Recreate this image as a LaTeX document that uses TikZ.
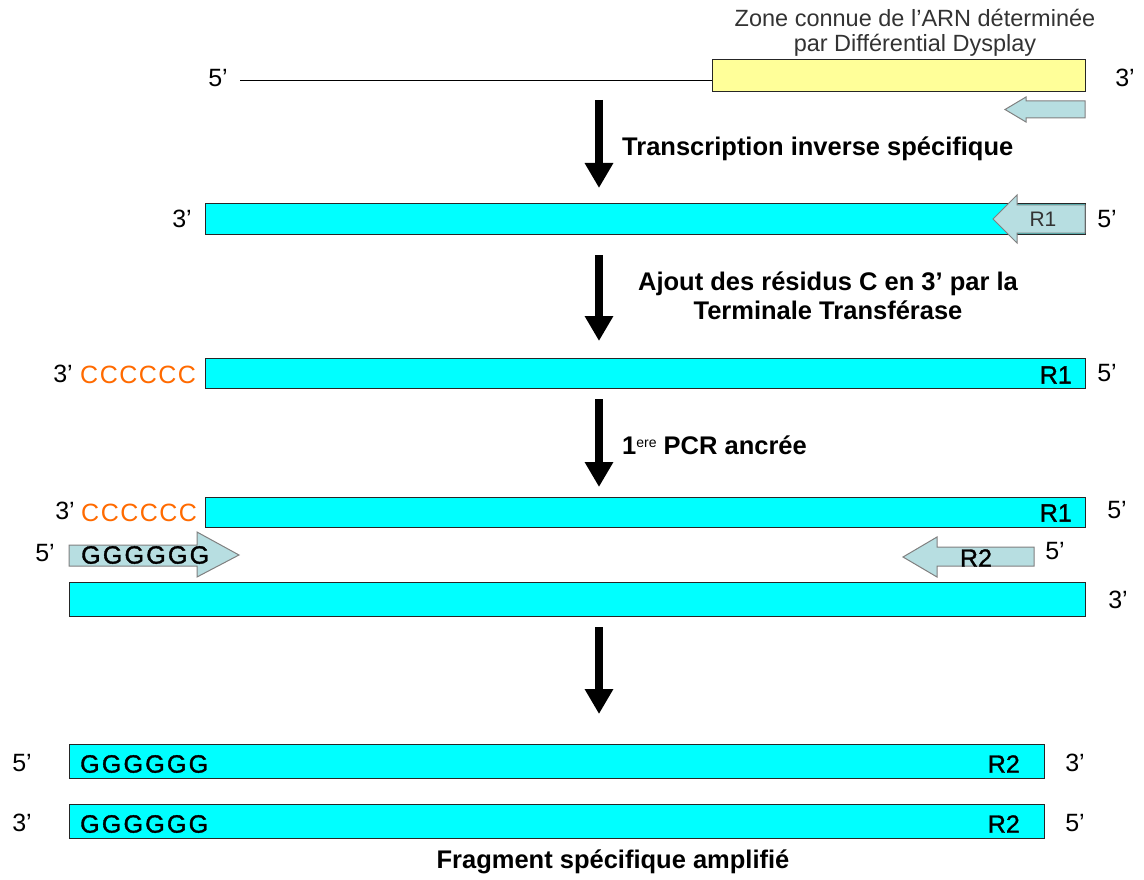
\documentclass[tikz,border=0pt]{standalone}
\usepackage{fontspec}
\setmainfont{Liberation Sans}
\usetikzlibrary{arrows.meta}
\definecolor{strand}{HTML}{00FFFF}
\definecolor{known}{HTML}{FFFF99}
\definecolor{primerfill}{HTML}{B7DEE1}
\definecolor{tailc}{HTML}{FF6A00}
\tikzset{
  strandbox/.style={draw=black!85, fill=strand, line width=1pt, inner sep=0pt},
  knownbox/.style={draw=black!85, fill=known, line width=1pt, inner sep=0pt},
  primer/.style={draw=black!50, fill=primerfill, line width=1pt, line join=miter},
  steparrow/.style={line width=8.5pt, -{Triangle[width=27pt,length=25pt]}},
  endlbl/.style={font=\fontsize{25}{25}\selectfont, inner sep=0pt},
  steplbl/.style={font=\fontsize{25.5}{29}\selectfont\bfseries, inner sep=0pt},
  seqlbl/.style={font=\fontsize{25}{25}\selectfont\addfontfeature{FakeBold=1.2}, inner sep=0pt},
  tagtxt/.style={font=\fontsize{21}{21}\selectfont, inner sep=0pt},
  ctail/.style={font=\fontsize{25}{25}\selectfont\addfontfeature{LetterSpace=6}, text=tailc, inner sep=0pt},
  gtail/.style={font=\fontsize{25}{25}\selectfont\addfontfeature{FakeBold=1.5,LetterSpace=9}, inner sep=0pt},
}
\begin{document}
\begin{tikzpicture}[x=1pt,y=-1pt]
\useasboundingbox (0,0) rectangle (1144,880);

% --- RNA with the region known from differential display
\node[knownbox, minimum width=373pt, minimum height=32pt] (rna) at (898.5,76) {};
\coordinate (rnastart) at (240,80);
\draw[line width=0.9pt] (rnastart) -- (rnastart -| rna.west);
\node[endlbl] (rna5) at (218,78) {5’};
\node[endlbl] (rna3) at (1125,78) {3’};
\node[font=\fontsize{23.5}{25}\selectfont, text=black!80, align=center, inner sep=0pt] (zone) at (915,33)
  {Zone connue de l'ARN déterminée\\par Différential Dysplay};
% primer under the known region
\draw[primer] (1085,101) -- (1026,101) -- (1026,97) -- (1005,109.5) -- (1026,122) -- (1026,118) -- (1085,118) -- cycle;

% --- step 1
\coordinate (a1s) at (599,100);
\coordinate (a1e) at (599,188);
\draw[steparrow] (a1s) -- (a1e);
\node[steplbl, anchor=west] (t1) at (622,148.5) {Transcription inverse spécifique};

% --- cDNA with R1 primer
\node[strandbox, minimum width=880pt, minimum height=30pt] (c1) at (645,219) {};
\node[endlbl] (c1l) at (182,219) {3’};
\node[endlbl] (c1r) at (1107,219) {5’};
\draw[primer] (1085,205) -- (1017,205) -- (1017,195) -- (993,219) -- (1017,243) -- (1017,233) -- (1085,233) -- cycle;
\node[tagtxt, text=black!80] (r1a) at (1043,219) {R1};

% --- step 2
\coordinate (a2s) at (599,255);
\coordinate (a2e) at (599,341);
\draw[steparrow] (a2s) -- (a2e);
\node[steplbl, align=center] (t2) at (828,295.5) {Ajout des résidus C en 3’ par la\\Terminale Transférase};

% --- C-tailed cDNA
\node[strandbox, minimum width=880pt, minimum height=30pt] (c2) at (645,373) {};
\node[endlbl] (c2l) at (63,374) {3’};
\node[ctail, anchor=west] (c2c) at (80,375) {CCCCCC};
\node[seqlbl, anchor=east] (c2r1) at (1072,375) {R1};
\node[endlbl] (c2r) at (1107,373) {5’};

% --- step 3
\coordinate (a3s) at (599,399);
\coordinate (a3e) at (599,487);
\draw[steparrow] (a3s) -- (a3e);
\node[steplbl, anchor=west] (t3) at (622,445)
  {1\raisebox{7pt}{\fontsize{14}{14}\selectfont\mdseries ere} PCR ancrée};

% --- anchored PCR
\node[strandbox, minimum width=880pt, minimum height=30pt] (c3) at (645,512) {};
\node[endlbl] (c3l) at (65,511) {3’};
\node[ctail, anchor=west] (c3c) at (81,513) {CCCCCC};
\node[seqlbl, anchor=east] (c3r1) at (1072,513) {R1};
\node[endlbl] (c3r) at (1117,510) {5’};

\draw[primer] (69,545) -- (197,545) -- (197,532) -- (239,555) -- (197,577) -- (197,566) -- (69,566) -- cycle;
\node[endlbl] (g5) at (45,553) {5’};
\node[gtail, anchor=west] (gp) at (81,555) {GGGGGG};

\draw[primer] (1034,547) -- (937,547) -- (937,537) -- (903,557) -- (937,577) -- (937,566) -- (1034,566) -- cycle;
\node[seqlbl] (r2p) at (976,558) {R2};
\node[endlbl] (r25) at (1055,551) {5’};

\node[strandbox, minimum width=1016pt, minimum height=34pt] (c4) at (577,599) {};
\node[endlbl] (c4r) at (1118,600) {3’};

% --- step 4
\coordinate (a4s) at (599,627);
\coordinate (a4e) at (599,714);
\draw[steparrow] (a4s) -- (a4e);

% --- amplified fragment
\node[strandbox, minimum width=975pt, minimum height=34pt] (f1) at (556.5,761) {};
\node[endlbl] (f1l) at (22,763) {5’};
\node[gtail, anchor=west] (f1g) at (80,764) {GGGGGG};
\node[seqlbl, anchor=east] (f1r2) at (1020,764) {R2};
\node[endlbl] (f1r) at (1075,763) {3’};

\node[strandbox, minimum width=975pt, minimum height=34pt] (f2) at (556.5,821) {};
\node[endlbl] (f2l) at (22,823) {3’};
\node[gtail, anchor=west] (f2g) at (80,824) {GGGGGG};
\node[seqlbl, anchor=east] (f2r2) at (1020,824) {R2};
\node[endlbl] (f2r) at (1075,823) {5’};

\node[steplbl] (fin) at (613,862) {Fragment spécifique amplifié};
\end{tikzpicture}
\end{document}
